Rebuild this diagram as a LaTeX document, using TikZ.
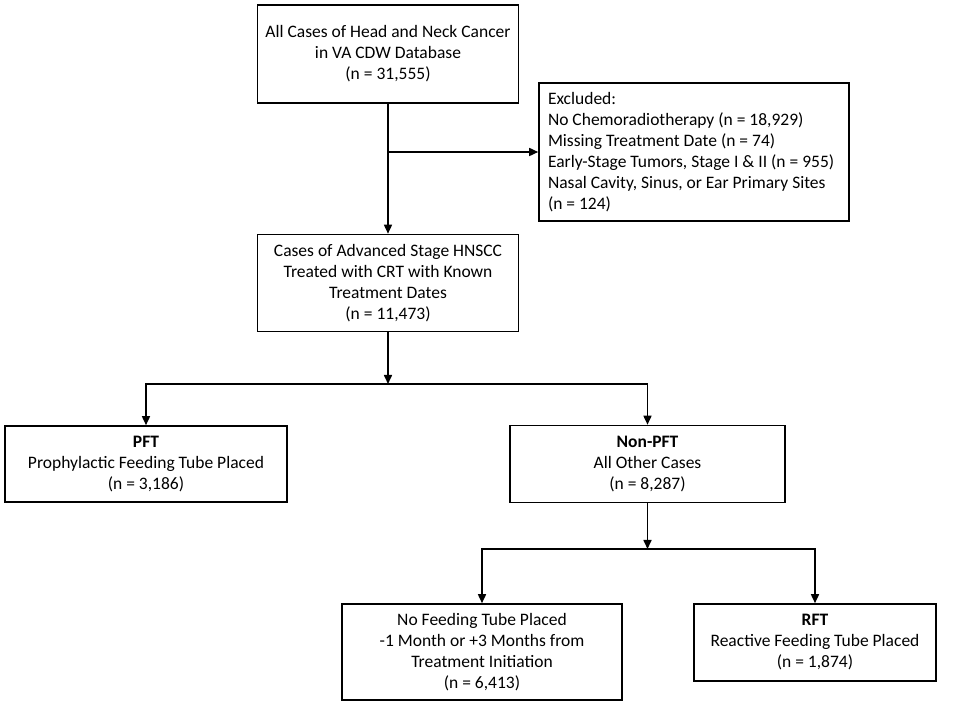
\documentclass[tikz,border=0pt]{standalone}
\usepackage{fontspec}
\setmainfont{Carlito}
\usetikzlibrary{arrows.meta, positioning}

\begin{document}
\begin{tikzpicture}[
        x=1pt, y=1pt,
        font=\fontsize{17.5}{21}\selectfont,
        box/.style={rectangle, draw, line width=1.6pt, align=center, inner sep=4pt},
        arrow/.style={-{Triangle[length=9pt, width=8pt]}, line width=1.6pt}
    ]
        \useasboundingbox (0,0) rectangle (954,705);

        % Nodes
        \node[box, minimum width=261pt, minimum height=98pt] (all) at (388,651)
            {All Cases of Head and Neck Cancer\\in VA CDW Database\\(n = 31,555)};
        \node[box, align=flush left, text width=292pt, inner sep=9pt, minimum height=130pt] (excluded) at (694,553)
            {Excluded:\\No Chemoradiotherapy (n = 18,929)\\Missing Treatment Date (n = 74)\\Early-Stage Tumors, Stage I \& II (n = 955)\\Nasal Cavity, Sinus, or Ear Primary Sites\\(n = 124)};
        \node[box, minimum width=261pt, minimum height=97pt] (advanced) at (388,422)
            {Cases of Advanced Stage HNSCC\\Treated with CRT with Known\\Treatment Dates\\(n = 11,473)};
        \node[box, minimum width=282pt, minimum height=76pt] (pft) at (146,241)
            {\textbf{PFT}\\Prophylactic Feeding Tube Placed\\(n = 3,186)};
        \node[box, minimum width=275pt, minimum height=77pt] (nonpft) at (647.5,241)
            {\textbf{Non-PFT}\\All Other Cases\\(n = 8,287)};
        \node[box, minimum width=280pt, minimum height=96pt] (nofeed) at (482,53)
            {No Feeding Tube Placed\\-1 Month or +3 Months from\\Treatment Initiation\\(n = 6,413)};
        \node[box, minimum width=242pt, minimum height=77pt] (rft) at (815,62.5)
            {\textbf{RFT}\\Reactive Feeding Tube Placed\\(n = 1,874)};

        \coordinate (split1) at (all.south |- excluded.west);
        \coordinate (split2) at (388,321);
        \coordinate (split3) at (647.5,156);

        % Arrows
        \draw[arrow] (all) -- (advanced);
        \draw[arrow] (split1) -- (excluded);
        \draw[arrow] (advanced) -- (split2);
        \draw[arrow] (split2) -| (pft);
        \draw[arrow] (split2) -| (nonpft);
        \draw[arrow] (nonpft) -- (split3);
        \draw[arrow] (split3) -| (nofeed);
        \draw[arrow] (split3) -| (rft);
    \end{tikzpicture}
\end{document}
